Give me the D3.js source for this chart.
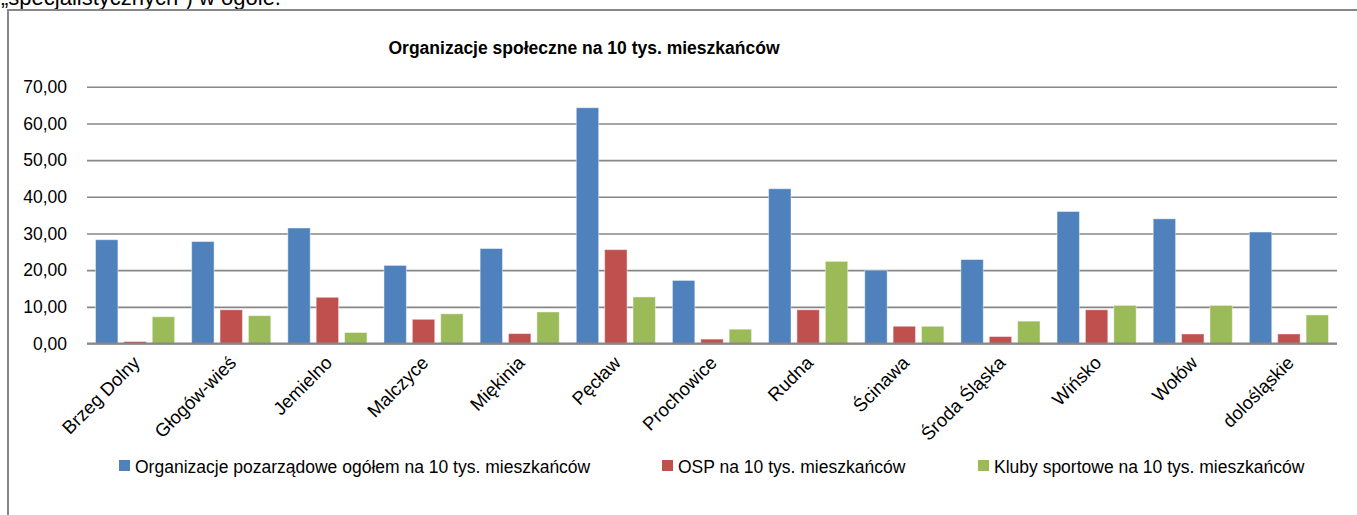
<!DOCTYPE html>
<html lang="pl">
<head>
  <meta charset="UTF-8">
  <title>Organizacje społeczne na 10 tys. mieszkańców</title>
  <script src="https://d3js.org/d3.v7.min.js"></script>
  <style>
    body {
      margin: 0;
      background: #fff;
      font-family: 'Liberation Sans', Arial, sans-serif;
    }
    svg text {
      fill: #000;
    }
    .grid line {
      stroke: #878787;
      stroke-width: 1.6;
    }
  </style>
</head>
<body>
  <svg width="1357" height="515"></svg>

  <script>
    // data
    const categories = ['Brzeg Dolny', 'Głogów-wieś', 'Jemielno', 'Malczyce', 'Miękinia', 'Pęcław',
      'Prochowice', 'Rudna', 'Ścinawa', 'Środa Śląska', 'Wińsko', 'Wołów', 'dolośląskie'];
    const ngoTotal = [28.3, 27.8, 31.5, 21.3, 25.9, 64.3, 17.2, 42.2, 20.0, 22.9, 36.0, 34.0, 30.4];
    const ospValues = [0.55, 9.2, 12.6, 6.6, 2.7, 25.6, 1.2, 9.2, 4.7, 1.9, 9.2, 2.6, 2.6];
    const sportClubs = [7.3, 7.6, 3.0, 8.1, 8.6, 12.7, 3.9, 22.4, 4.7, 6.1, 10.4, 10.4, 7.8];
    const seriesNames = ['Organizacje pozarządowe ogółem na 10 tys. mieszkańców',
      'OSP na 10 tys. mieszkańców', 'Kluby sportowe na 10 tys. mieszkańców'];
    const seriesColors = ['#4f81bd', '#c0504d', '#9bbb59'];
    const yTicks = [0, 10, 20, 30, 40, 50, 60, 70];

    const seriesValues = [ngoTotal, ospValues, sportClubs];
    const rows = categories.map((c, i) => ({
      cat: c,
      vals: seriesValues.map((s, k) => ({ key: k, value: s[i] }))
    }));

    const svg = d3.select('svg');
    const plot = { left: 87, right: 1337, top: 86.8, bottom: 343.5 };
    const fontSize = 17.5;

    // text of the page above the chart, cut by the window
    svg.append('text')
      .attr('x', 1)
      .attr('y', 5)
      .style('font-size', '22px')
      .text('„specjalistycznych”) w ogóle.');

    // chart frame
    svg.append('path')
      .attr('d', 'M8,515 V10 H1357')
      .attr('fill', 'none')
      .attr('stroke', '#878787')
      .attr('stroke-width', 2);

    svg.append('text')
      .attr('x', 584)
      .attr('y', 54)
      .attr('text-anchor', 'middle')
      .style('font-size', fontSize + 'px')
      .style('font-weight', 'bold')
      .text('Organizacje społeczne na 10 tys. mieszkańców');

    let x = d3.scaleBand()
      .domain(categories)
      .range([plot.left, plot.right])
      .padding(0);

    let xInner = d3.scaleBand()
      .domain([0, 1, 2])
      .range([0, x.bandwidth()])
      .paddingInner(0.21)
      .paddingOuter(0.3);

    let y = d3.scaleLinear()
      .domain([0, 70])
      .range([plot.bottom, plot.top]);

    // grid lines and value labels
    const grid = svg.append('g')
      .attr('class', 'grid')
      .attr('transform', `translate(${plot.left},0)`)
      .call(d3.axisLeft(y)
        .tickValues(yTicks)
        .tickSize(-(plot.right - plot.left))
        .tickPadding(20)
        .tickFormat(d => d3.format('.2f')(d).replace('.', ',')));
    grid.select('.domain').remove();
    grid.selectAll('text')
      .attr('fill', '#000')
      .style('font-size', fontSize + 'px')
      .style('font-family', "'Liberation Sans', Arial, sans-serif");

    // bars
    const groups = svg.append('g')
      .selectAll('g')
      .data(rows)
      .enter().append('g')
      .attr('transform', d => `translate(${x(d.cat)},0)`);

    groups.selectAll('rect')
      .data(d => d.vals)
      .enter().append('rect')
      .attr('x', d => xInner(d.key))
      .attr('y', d => y(d.value))
      .attr('width', xInner.bandwidth())
      .attr('height', d => y(0) - y(d.value))
      .attr('fill', d => seriesColors[d.key])
      .attr('stroke', 'rgba(255,255,255,0.45)')
      .attr('stroke-width', 1);

    // category axis line
    svg.append('line')
      .attr('x1', plot.left).attr('x2', plot.right)
      .attr('y1', y(0)).attr('y2', y(0))
      .attr('stroke', '#878787')
      .attr('stroke-width', 2);

    // rotated category labels
    svg.append('g')
      .selectAll('text')
      .data(categories)
      .enter().append('text')
      .attr('text-anchor', 'end')
      .attr('transform', d => `translate(${x(d) + x.bandwidth() / 2 + 6},${364}) rotate(-45)`)
      .style('font-size', '18.5px')
      .text(d => d);

    // legend
    const legendX = [119, 662, 978];
    const legend = svg.append('g')
      .selectAll('g')
      .data(seriesNames)
      .enter().append('g')
      .attr('transform', (d, i) => `translate(${legendX[i]},460)`);

    legend.append('rect')
      .attr('width', 11)
      .attr('height', 11)
      .attr('fill', (d, i) => seriesColors[i]);

    legend.append('text')
      .attr('x', 16)
      .attr('y', 13)
      .style('font-size', fontSize + 'px')
      .text(d => d);
  </script>
</body>
</html>
